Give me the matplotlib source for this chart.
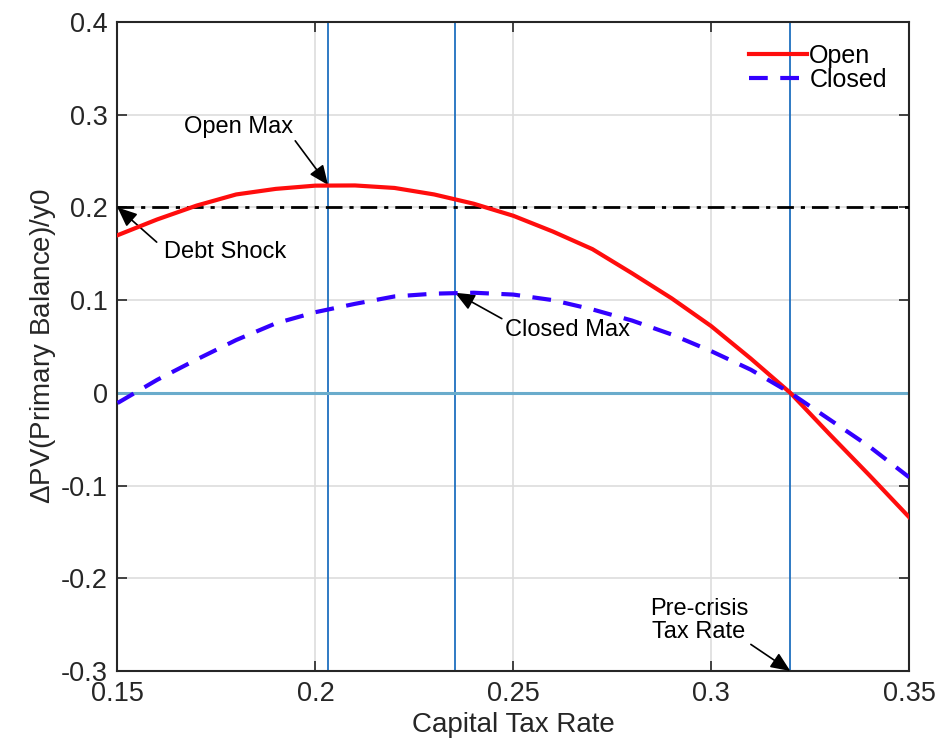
import numpy as np
import matplotlib
matplotlib.use("Agg")
import matplotlib.pyplot as plt

plt.rcParams['font.family'] = ['Liberation Sans', 'DejaVu Sans']
plt.rcParams['mathtext.fontset'] = 'custom'
plt.rcParams['mathtext.rm'] = 'Liberation Sans'

# capital tax rate grid and values
tax = [0.15, 0.16, 0.17, 0.18, 0.19, 0.20, 0.21, 0.22, 0.23, 0.24, 0.25,
       0.26, 0.27, 0.28, 0.29, 0.30, 0.31, 0.32, 0.33, 0.34, 0.35]
open_pb = [0.170, 0.187, 0.202, 0.214, 0.220, 0.2235, 0.2237, 0.221, 0.214, 0.204, 0.191,
           0.174, 0.155, 0.129, 0.102, 0.072, 0.037, 0.0, -0.045, -0.089, -0.134]
closed_pb = [-0.011, 0.014, 0.036, 0.057, 0.075, 0.087, 0.096, 0.104, 0.107, 0.108, 0.106,
             0.100, 0.090, 0.078, 0.063, 0.045, 0.025, 0.0, -0.029, -0.058, -0.091]

debt_shock = 0.2
open_max_x = 0.2032
closed_max_x = 0.2353
precrisis_x = 0.32

xticks = [0.15, 0.2, 0.25, 0.3, 0.35]
xticklabels = ['0.15', '0.2', '0.25', '0.3', '0.35']
yticks = [-0.3, -0.2, -0.1, 0, 0.1, 0.2, 0.3, 0.4]
yticklabels = ['-0.3', '-0.2', '-0.1', '0', '0.1', '0.2', '0.3', '0.4']

fig = plt.figure(figsize=(9.43, 7.43), dpi=100)
ax = fig.add_axes([0.1246, 0.0969, 0.8394, 0.8735])

ax.grid(True, color='#dddddd', linewidth=1.2, zorder=0)
ax.set_axisbelow(True)

vcol = '#1f6fbf'
for xv in [open_max_x, closed_max_x, precrisis_x]:
    ax.axvline(xv, color=vcol, linewidth=1.3, zorder=2)
ax.axhline(0, color='#6aaccc', linewidth=2.2, zorder=2)
ax.axhline(debt_shock, color='black', linewidth=2, linestyle=(0, (6, 2.5, 1.5, 2.5)), zorder=3)

ax.plot(tax, open_pb, color='#ff0d0d', linewidth=3, label='Open', zorder=4)
ax.plot(tax, closed_pb, color='#3300ff', linewidth=3, linestyle=(0, (4.5, 3)), label='Closed', zorder=4)

ax.set_xlim(0.15, 0.35)
ax.set_ylim(-0.3, 0.4)
ax.set_xticks(xticks)
ax.set_xticklabels(xticklabels)
ax.set_yticks(yticks)
ax.set_yticklabels(yticklabels)
ax.tick_params(direction='in', length=7, width=1.2, top=True, right=True,
               labelsize=19.5, colors='#262626', pad=7)
for s in ax.spines.values():
    s.set_color('#262626')
    s.set_linewidth(1.5)

ax.set_xlabel('Capital Tax Rate', fontsize=20, color='#262626', labelpad=4)
ax.set_ylabel(r'$\Delta$PV(Primary Balance)/y0', fontsize=20, color='#262626', labelpad=2)

arrow = dict(arrowstyle='-|>,head_length=0.7,head_width=0.3', color='black', lw=1.2,
             shrinkA=0, shrinkB=0)
ax.annotate('Open Max', xy=(open_max_x, 0.2242), xytext=(0.1806, 0.2867),
            fontsize=17, ha='center', va='center',
            arrowprops=dict(arrow, relpos=(1.0, 0.0)))
ax.annotate('Debt Shock', xy=(0.15, debt_shock), xytext=(0.1772, 0.1519),
            fontsize=17, ha='center', va='center',
            arrowprops=dict(arrow, relpos=(-0.06, 0.95)))
ax.annotate('Closed Max', xy=(closed_max_x, 0.108), xytext=(0.2636, 0.0677),
            fontsize=17, ha='center', va='center',
            arrowprops=dict(arrow, relpos=(0.0, 0.95)))
ax.annotate('Pre-crisis\nTax Rate', xy=(precrisis_x, -0.3), xytext=(0.2969, -0.2451),
            fontsize=17, ha='center', va='center', linespacing=1.05,
            arrowprops=dict(arrow, relpos=(1.0, 0.0)))

leg = ax.legend(loc='upper right', frameon=False, fontsize=18, handlelength=2.3,
                handletextpad=0.1, labelspacing=0.0, borderaxespad=0.3,
                bbox_to_anchor=(0.994, 0.993))

fig.savefig('out.png', dpi=100)
